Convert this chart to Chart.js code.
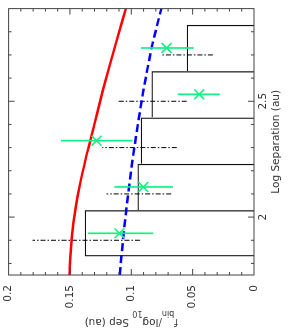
<!DOCTYPE html>
<html><head><meta charset="utf-8">
<script src="https://cdn.jsdelivr.net/npm/chart.js@4.4.0/dist/chart.umd.min.js"></script>
<style>
html,body{margin:0;padding:0;background:#fff;overflow:hidden;width:288px;height:329px;}
#wrap{position:absolute;left:0;top:0;width:329px;height:288px;transform-origin:0 0;transform:translate(0,329px) rotate(-90deg);}
canvas{display:block;}
</style></head><body>
<div id="wrap"><canvas id="c" width="329" height="288"></canvas></div>
<script>
// Data (log separation in au, fraction per log10 separation)
const binCenters = [1.93, 2.13, 2.33, 2.53, 2.73];
const histValues = [0.138, 0.095, 0.0923, 0.0835, 0.0549];
const obsValues = [0.1097, 0.0902, 0.1283, 0.0447, 0.0712];
const obsLow = [0.0822, 0.0661, 0.0990, 0.0279, 0.0492];
const obsHigh = [0.1352, 0.1138, 0.1572, 0.0621, 0.0921];
const altSep = [1.9, 2.1, 2.3, 2.5, 2.7];
const altLow = [0.0929, 0.0675, 0.0629, 0.0548, 0.0335];
const altHigh = [0.1805, 0.1202, 0.1237, 0.1110, 0.0747];
const curveSep = [1.75, 1.85, 1.95, 2.05, 2.15, 2.25, 2.35, 2.45, 2.55, 2.65, 2.75, 2.9];
const redValues = [0.1504, 0.1494, 0.1478, 0.1450, 0.1415, 0.1372, 0.1324, 0.1278, 0.1230, 0.1179, 0.1126, 0.1044];
const blueValues = [0.1094, 0.1077, 0.1058, 0.1037, 0.1014, 0.0989, 0.0961, 0.0932, 0.0900, 0.0865, 0.0826, 0.0755];
const xTickValues = [2, 2.5];
const xTickLabels = ['2', '2.5'];
const yTickValues = [0, 0.05, 0.1, 0.15, 0.2];
const yTickLabels = ['0', '0.05', '0.1', '0.15', '0.2'];
const xTitle = 'Log Separation (au)';
const yTitleParts = [['f', false], ['bin', true], ['/log', false], ['10', true], [' Sep (au)', false]];

const GREEN = 'rgb(20,240,130)';
const FONT = '"DejaVu Sans", sans-serif';

function errSegments(xs, lo, hi) {
  const d = [];
  xs.forEach((x, i) => { d.push({x: x, y: lo[i]}, {x: x, y: hi[i]}, {x: x, y: null}); });
  return d;
}
function pts(xs, ys) { return xs.map((x, i) => ({x: x, y: ys[i]})); }

const frameTicks = {
  id: 'frameTicks',
  afterDraw(chart) {
    const {ctx, chartArea: a, scales: {x, y}} = chart;
    ctx.save();
    ctx.strokeStyle = '#444';
    ctx.lineWidth = 1;
    ctx.strokeRect(a.left, a.top, a.right - a.left, a.bottom - a.top);
    ctx.beginPath();
    for (let k = 18; k <= 28; k++) {
      const v = k / 10;
      const px = x.getPixelForValue(v);
      const len = xTickValues.some(t => Math.abs(t - v) < 1e-6) ? 6 : 3;
      ctx.moveTo(px, a.bottom); ctx.lineTo(px, a.bottom - len);
      ctx.moveTo(px, a.top); ctx.lineTo(px, a.top + len);
    }
    for (let k = 1; k <= 19; k++) {
      const v = k / 100;
      const py = y.getPixelForValue(v);
      const len = (k % 5 === 0) ? 6 : 3;
      ctx.moveTo(a.left, py); ctx.lineTo(a.left + len, py);
      ctx.moveTo(a.right, py); ctx.lineTo(a.right - len, py);
    }
    ctx.stroke();
    // titles
    ctx.fillStyle = '#333';
    ctx.font = '10.5px ' + FONT;
    ctx.textAlign = 'center';
    ctx.textBaseline = 'middle';
    ctx.fillText(xTitle, (a.left + a.right) / 2, 276);
    // y title with subscripts
    ctx.textAlign = 'left';
    ctx.textBaseline = 'alphabetic';
    const mainF = '10.5px ' + FONT, subF = '8px ' + FONT;
    let total = 0;
    const widths = yTitleParts.map(([t, s]) => { ctx.font = s ? subF : mainF; const w = ctx.measureText(t).width; total += w; return w; });
    ctx.translate(9.7, (a.top + a.bottom) / 2);
    ctx.rotate(-Math.PI / 2);
    let xp = -total / 2;
    yTitleParts.forEach(([t, s], i) => {
      ctx.font = s ? subF : mainF;
      ctx.fillText(t, xp, s ? 8 : 0);
      xp += widths[i];
    });
    ctx.restore();
  }
};

function zeroPad(s) { s.paddingTop = 0; s.paddingBottom = 0; s.paddingLeft = 0; s.paddingRight = 0; }

new Chart(document.getElementById('c'), {
  type: 'bar',
  data: {
    datasets: [
      {type: 'line', data: pts(binCenters, obsValues), showLine: false, pointStyle: 'crossRot', pointRadius: 7, pointBorderWidth: 1.6, pointBorderColor: GREEN, pointBackgroundColor: GREEN},
      {type: 'line', data: errSegments(binCenters, obsLow, obsHigh), borderColor: GREEN, borderWidth: 1.7, pointRadius: 0, spanGaps: false},
      {type: 'line', data: pts(curveSep, blueValues), borderColor: '#0000ff', borderWidth: 2.5, borderDash: [8, 4], pointRadius: 0, cubicInterpolationMode: 'monotone'},
      {type: 'line', data: pts(curveSep, redValues), borderColor: '#ff0000', borderWidth: 2.5, pointRadius: 0, cubicInterpolationMode: 'monotone'},
      {type: 'line', data: errSegments(altSep, altLow, altHigh), borderColor: '#000', borderWidth: 1, borderDash: [5, 2, 1.5, 2], pointRadius: 0, spanGaps: false},
      {type: 'bar', data: pts(binCenters, histValues), backgroundColor: 'rgba(0,0,0,0)', borderColor: '#111',
        borderSkipped: false, inflateAmount: 0, barPercentage: 1, categoryPercentage: 1,
        borderWidth: c => ({top: 1.3, right: 1.3, bottom: 0, left: c.dataIndex === 0 ? 1.3 : 0})}
    ]
  },
  options: {
    responsive: false,
    animation: false,
    devicePixelRatio: 1,
    events: [],
    layout: {padding: {left: 0, right: 3, top: 4, bottom: 0}},
    plugins: {legend: {display: false}, tooltip: {enabled: false}},
    scales: {
      x: {
        type: 'linear', min: 1.75, max: 2.9, offset: false,
        grid: {display: false, drawTicks: false}, border: {display: false},
        afterBuildTicks: s => { s.ticks = xTickValues.map(v => ({value: v})); },
        afterFit: s => { s.height = 34; zeroPad(s); },
        ticks: {padding: 3, maxRotation: 0, autoSkip: false, color: '#333', font: {family: FONT, size: 10.5},
          callback: (v, i) => xTickLabels[i]}
      },
      y: {
        type: 'linear', min: 0, max: 0.2,
        grid: {display: false, drawTicks: false}, border: {display: false},
        afterBuildTicks: s => { s.ticks = yTickValues.map(v => ({value: v})); },
        afterFit: s => { s.width = 54; zeroPad(s); },
        ticks: {padding: 10, autoSkip: false, color: '#333', font: {family: FONT, size: 10.5},
          callback: (v, i) => yTickLabels[i]}
      }
    }
  },
  plugins: [frameTicks]
});
</script>
</body></html>
